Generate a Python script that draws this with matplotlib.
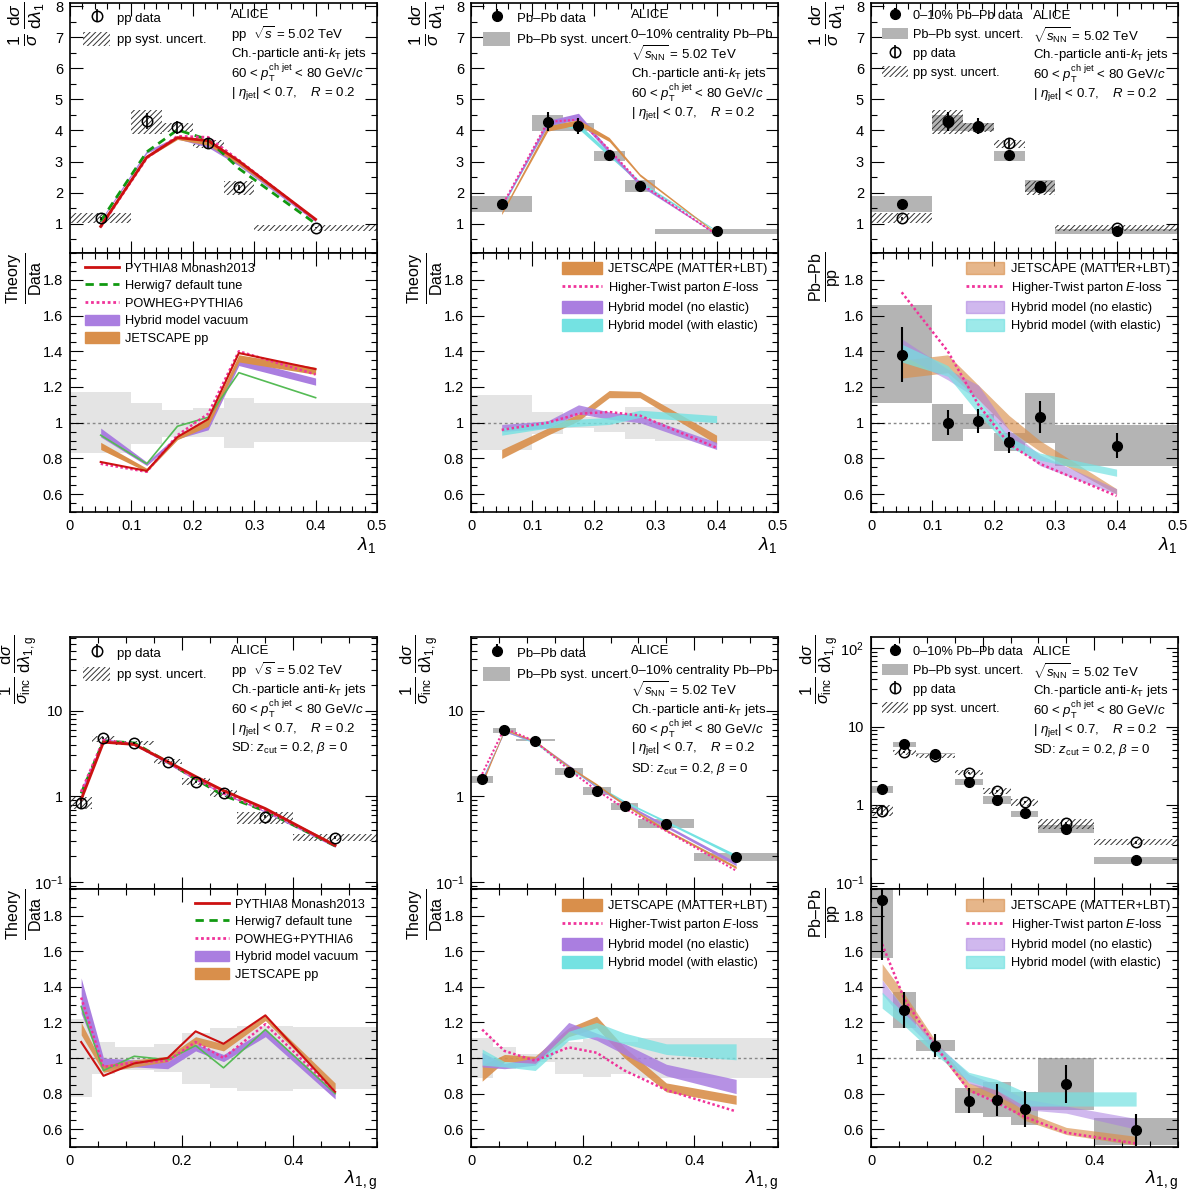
import numpy as np
import matplotlib
matplotlib.use("Agg")
import matplotlib.pyplot as plt
from matplotlib.lines import Line2D
from matplotlib.patches import Patch
from matplotlib.ticker import MultipleLocator, FuncFormatter, LogLocator, NullFormatter

plt.rcParams['font.family'] = ['Liberation Sans', 'DejaVu Sans']
plt.rcParams['mathtext.fontset'] = 'custom'
plt.rcParams['mathtext.rm'] = 'Liberation Sans'
plt.rcParams['mathtext.it'] = 'Liberation Sans:italic'
plt.rcParams['mathtext.bf'] = 'Liberation Sans:bold'
plt.rcParams['hatch.linewidth'] = 0.7

W, H = 1192, 1195

# ---------------- lambda_1 (ungroomed) ----------------
lam_edges = [0, 0.1, 0.15, 0.2, 0.25, 0.3, 0.5]
lam_x = [0.05, 0.125, 0.175, 0.225, 0.275, 0.4]

pp_val = [1.17, 4.30, 4.10, 3.60, 2.17, 0.88]
pp_stat = [0.05, 0.25, 0.20, 0.17, 0.08, 0.03]
pp_sys_lo = [1.03, 3.90, 3.95, 3.45, 1.93, 0.77]
pp_sys_hi = [1.34, 4.65, 4.24, 3.70, 2.39, 0.95]
pp_rsys_lo = [0.83, 0.88, 0.92, 0.92, 0.86, 0.89]
pp_rsys_hi = [1.17, 1.11, 1.07, 1.08, 1.14, 1.11]

pb_val = [1.62, 4.28, 4.14, 3.20, 2.22, 0.76]
pb_stat = [0.06, 0.30, 0.25, 0.12, 0.10, 0.04]
pb_sys_lo = [1.38, 3.98, 3.98, 3.03, 2.02, 0.68]
pb_sys_hi = [1.88, 4.51, 4.23, 3.34, 2.42, 0.83]
pb_rsys_lo = [0.845, 0.935, 0.97, 0.95, 0.91, 0.895]
pb_rsys_hi = [1.155, 1.06, 1.03, 1.05, 1.09, 1.105]

raa_val = [1.38, 1.00, 1.01, 0.89, 1.03, 0.87]
raa_stat = [0.155, 0.07, 0.065, 0.06, 0.09, 0.07]
raa_sys_lo = [1.11, 0.895, 0.965, 0.84, 0.885, 0.755]
raa_sys_hi = [1.66, 1.105, 1.05, 0.945, 1.165, 0.985]

# theory / pp data
pythia = [0.78, 0.73, 0.92, 1.02, 1.39, 1.30]
herwig = [0.93, 0.77, 0.98, 1.03, 1.28, 1.14]
powheg = [0.77, 0.725, 0.93, 1.05, 1.40, 1.27]
hybvac_lo = [0.92, 0.76, 0.91, 0.96, 1.32, 1.21]
hybvac_hi = [0.97, 0.78, 0.93, 1.00, 1.36, 1.25]
jetpp_lo = [0.85, 0.725, 0.905, 0.98, 1.34, 1.27]
jetpp_hi = [0.89, 0.745, 0.925, 1.02, 1.38, 1.31]

# theory / Pb-Pb data
jetaa_lo = [0.80, 0.93, 1.01, 1.14, 1.14, 0.88]
jetaa_hi = [0.85, 0.97, 1.05, 1.18, 1.175, 0.93]
htaa = [0.96, 1.00, 1.05, 1.06, 1.04, 0.86]
hybne_lo = [0.95, 0.97, 1.05, 1.02, 1.00, 0.85]
hybne_hi = [0.99, 1.01, 1.10, 1.06, 1.04, 0.89]
hybe_lo = [0.93, 0.97, 0.98, 0.99, 1.03, 1.00]
hybe_hi = [0.97, 1.01, 1.02, 1.03, 1.07, 1.04]

# Pb-Pb / pp models
jetraa_lo = [1.25, 1.28, 1.13, 0.96, 0.84, 0.60]
jetraa_hi = [1.35, 1.38, 1.21, 1.04, 0.90, 0.63]
htraa = [1.73, 1.40, 1.10, 0.88, 0.77, 0.59]
hybneraa_lo = [1.38, 1.24, 1.13, 0.90, 0.76, 0.60]
hybneraa_hi = [1.47, 1.30, 1.21, 0.96, 0.82, 0.63]
hyberaa_lo = [1.34, 1.26, 1.05, 0.86, 0.79, 0.70]
hyberaa_hi = [1.44, 1.32, 1.13, 0.92, 0.83, 0.74]

# ---------------- lambda_1,g (groomed) ----------------
lg_edges = [0, 0.04, 0.08, 0.15, 0.2, 0.25, 0.3, 0.4, 0.55]
lg_x = [0.02, 0.06, 0.115, 0.175, 0.225, 0.275, 0.35, 0.475]

ppg_val = [0.84, 4.75, 4.15, 2.54, 1.48, 1.08, 0.58, 0.33]
ppg_stat = [0.10, 0.15, 0.10, 0.06, 0.04, 0.03, 0.02, 0.015]
ppg_sys_lo = [0.72, 4.35, 4.00, 2.38, 1.37, 0.97, 0.48, 0.30]
ppg_sys_hi = [0.99, 5.00, 4.40, 2.75, 1.62, 1.19, 0.66, 0.36]
ppg_rsys_lo = [0.78, 0.91, 0.935, 0.92, 0.855, 0.83, 0.815, 0.825]
ppg_rsys_hi = [1.22, 1.09, 1.06, 1.08, 1.14, 1.17, 1.18, 1.175]

pbg_val = [1.57, 6.00, 4.43, 1.94, 1.14, 0.78, 0.48, 0.194]
pbg_stat = [0.08, 0.25, 0.15, 0.06, 0.04, 0.03, 0.02, 0.01]
pbg_sys_lo = [1.42, 5.50, 4.40, 1.77, 1.03, 0.70, 0.43, 0.175]
pbg_sys_hi = [1.74, 6.30, 4.60, 2.12, 1.27, 0.84, 0.55, 0.216]
pbg_rsys_lo = [0.89, 0.94, 0.98, 0.91, 0.895, 0.91, 0.89, 0.89]
pbg_rsys_hi = [1.11, 1.06, 1.02, 1.09, 1.105, 1.09, 1.11, 1.11]

raag_val = [1.89, 1.27, 1.07, 0.76, 0.765, 0.715, 0.855, 0.595]
raag_stat = [0.34, 0.10, 0.065, 0.07, 0.09, 0.10, 0.105, 0.09]
raag_sys_lo = [1.565, 1.17, 1.04, 0.69, 0.67, 0.625, 0.71, 0.51]
raag_sys_hi = [2.00, 1.37, 1.10, 0.83, 0.865, 0.81, 1.00, 0.665]

pythia_g = [1.09, 0.90, 0.97, 1.00, 1.15, 1.08, 1.24, 0.81]
herwig_g = [1.29, 0.93, 1.01, 0.99, 1.07, 0.945, 1.16, 0.80]
powheg_g = [1.34, 0.95, 0.975, 0.985, 1.09, 1.00, 1.19, 0.81]
hybvacg_lo = [1.25, 0.94, 0.95, 0.94, 1.04, 0.98, 1.12, 0.77]
hybvacg_hi = [1.45, 1.00, 0.99, 0.98, 1.08, 1.02, 1.16, 0.81]
jetppg_lo = [1.13, 0.92, 0.95, 0.98, 1.08, 1.04, 1.21, 0.82]
jetppg_hi = [1.20, 0.96, 0.99, 1.01, 1.12, 1.08, 1.24, 0.86]

jetaag_lo = [0.87, 0.98, 0.97, 1.12, 1.17, 1.00, 0.81, 0.74]
jetaag_hi = [0.96, 1.02, 1.01, 1.17, 1.235, 1.06, 0.86, 0.79]
htaag = [1.16, 1.04, 0.985, 1.06, 1.03, 0.93, 0.82, 0.70]
hybneg_lo = [0.95, 0.94, 0.96, 1.15, 1.10, 1.02, 0.90, 0.80]
hybneg_hi = [1.03, 0.97, 1.00, 1.20, 1.14, 1.08, 0.965, 0.88]
hybeg_lo = [0.96, 0.95, 0.93, 1.10, 1.12, 1.08, 1.02, 0.99]
hybeg_hi = [1.05, 0.98, 0.97, 1.15, 1.20, 1.14, 1.08, 1.08]

jetraag_lo = [1.44, 1.28, 1.05, 0.81, 0.77, 0.65, 0.57, 0.51]
jetraag_hi = [1.53, 1.36, 1.10, 0.86, 0.82, 0.70, 0.61, 0.56]
htraag = [1.64, 1.33, 1.07, 0.82, 0.75, 0.67, 0.58, 0.52]
hybneraag_lo = [1.36, 1.21, 1.04, 0.86, 0.79, 0.71, 0.69, 0.60]
hybneraag_hi = [1.44, 1.27, 1.09, 0.91, 0.85, 0.77, 0.73, 0.66]
hyberaag_lo = [1.28, 1.18, 1.02, 0.87, 0.82, 0.73, 0.73, 0.73]
hyberaag_hi = [1.37, 1.25, 1.08, 0.92, 0.88, 0.81, 0.81, 0.81]

RED = '#cc1111'
GREEN = '#119911'
PINK = '#f0339a'
PURPLE = '#aa7ee0'
ORANGE = '#d98f4b'
CYAN = '#74e2e2'
GSYS = '#b4b4b4'
GLIGHT = '#e4e4e4'

fig = plt.figure(figsize=(W / 100, H / 100), dpi=100)


def add_ax(x0, y0, y1, w=307):
    return fig.add_axes([x0 / W, 1 - y1 / H, w / W, (y1 - y0) / H])


def style(ax, xmaj, xmin, xlim, xlabels):
    ax.set_xlim(*xlim)
    ax.tick_params(which='both', direction='in', top=True, right=True, labelsize=10.5, pad=5)
    ax.tick_params(which='major', length=9, width=0.8)
    ax.tick_params(which='minor', length=4.5, width=0.8)
    ax.xaxis.set_major_locator(MultipleLocator(xmaj))
    ax.xaxis.set_minor_locator(MultipleLocator(xmin))
    ax.xaxis.set_major_formatter(FuncFormatter(lambda v, p: f'{v:g}'))
    if not xlabels:
        ax.tick_params(labelbottom=False)
    for sp in ax.spines.values():
        sp.set_linewidth(1.2)


def style_ratio(ax, xmaj, xmin, xlim):
    style(ax, xmaj, xmin, xlim, True)
    ax.set_ylim(0.5, 1.95)
    ax.yaxis.set_major_locator(MultipleLocator(0.2))
    ax.yaxis.set_minor_locator(MultipleLocator(0.05))
    ax.yaxis.set_major_formatter(FuncFormatter(lambda v, p: f'{v:g}' if v < 1.9 else ''))
    ax.axhline(1, color='#888888', ls=(0, (2, 2)), lw=1, zorder=1.5)


def log_fmt(v, p):
    lab = {0.1: r'$10^{-1}$', 1: '1', 10: '10', 100: r'$10^{2}$'}
    for k, s in lab.items():
        if np.isclose(v, k):
            return s
    return ''


def style_log(ax, ylim):
    ax.set_yscale('log')
    ax.set_ylim(*ylim)
    ax.yaxis.set_major_locator(LogLocator(base=10))
    ax.yaxis.set_minor_locator(LogLocator(base=10, subs=np.arange(2, 10)))
    ax.yaxis.set_major_formatter(FuncFormatter(log_fmt))
    ax.yaxis.set_minor_formatter(NullFormatter())


def boxes(ax, edges, lo, hi, **kw):
    e = np.asarray(edges)
    lo = np.asarray(lo)
    hi = np.asarray(hi)
    return ax.bar(e[:-1], hi - lo, width=np.diff(e), bottom=lo, align='edge', **kw)


def hatched(ax, edges, lo, hi):
    return boxes(ax, edges, lo, hi, facecolor='none', edgecolor='#333333', hatch='//////', linewidth=0, zorder=2)


def gray(ax, edges, lo, hi, color=GSYS, z=1):
    return boxes(ax, edges, lo, hi, color=color, linewidth=0, zorder=z)


def pts_open(ax, x, y, e):
    return ax.errorbar(x, y, yerr=e, fmt='o', mfc='none', mec='black', ms=7.5, mew=1.1,
                       ecolor='black', elinewidth=1.2, capsize=0, zorder=6)


def pts_full(ax, x, y, e):
    return ax.errorbar(x, y, yerr=e, fmt='o', color='black', ms=7,
                       elinewidth=1.5, capsize=0, zorder=7)


def band(ax, x, lo, hi, scale, color, alpha=1.0, z=3):
    s = np.asarray(scale)
    ax.fill_between(x, np.asarray(lo) * s, np.asarray(hi) * s, color=color, alpha=alpha, lw=0, zorder=z)


def line(ax, x, r, scale, **kw):
    ax.plot(x, np.asarray(r) * np.asarray(scale), **kw)


def ftext(x, y, s, **kw):
    fig.text(x / W, 1 - y / H, s, va='center', ha='left', fontsize=9.5, **kw)


def leg(ax, handles, labels, x, y, hl, hh, ls, fs=9.5, tp=0.5):
    return ax.legend(handles, labels, loc='upper left', bbox_to_anchor=(x / W, 1 - y / H),
                     bbox_transform=fig.transFigure, frameon=False, fontsize=fs,
                     handlelength=hl, handleheight=hh, labelspacing=ls, borderpad=0,
                     borderaxespad=0, handletextpad=tp)


cols = [70, 471, 871]
top_rows = [(3, 253, 512), (637, 889, 1147)]

# ============ TOP ROW (lambda_1) ============
y0, ym, y1 = top_rows[0]
axs = [(add_ax(c, y0, ym), add_ax(c, ym, y1)) for c in cols]
for a, r in axs:
    style(a, 0.1, 0.02, (0, 0.5), False)
    a.set_ylim(0.06, 8.1)
    a.yaxis.set_major_locator(MultipleLocator(1))
    a.yaxis.set_minor_locator(MultipleLocator(0.5))
    a.yaxis.set_major_formatter(FuncFormatter(lambda v, p: f'{v:g}' if v > 0.5 else ''))
    style_ratio(r, 0.1, 0.02, (0, 0.5))

# column 1: pp
a, r = axs[0]
h_sys = hatched(a, lam_edges, pp_sys_lo, pp_sys_hi)
h_pp = pts_open(a, lam_x, pp_val, pp_stat)
band(a, lam_x, hybvac_lo, hybvac_hi, pp_val, PURPLE)
band(a, lam_x, jetpp_lo, jetpp_hi, pp_val, ORANGE)
line(a, lam_x, herwig, pp_val, color=GREEN, ls=(0, (3, 2)), lw=2, zorder=4)
line(a, lam_x, powheg, pp_val, color=PINK, ls=(0, (1, 1)), lw=2, zorder=4)
line(a, lam_x, pythia, pp_val, color=RED, lw=2, zorder=5)
leg(a, [h_pp, h_sys], ['pp data', 'pp syst. uncert.'], 83, 10, 2.05, 1.3, 0.55)

gray(r, lam_edges, pp_rsys_lo, pp_rsys_hi, GLIGHT)
one = np.ones(len(lam_x))
band(r, lam_x, hybvac_lo, hybvac_hi, one, PURPLE)
band(r, lam_x, jetpp_lo, jetpp_hi, one, ORANGE)
line(r, lam_x, herwig, one, color='#55bb55', lw=1.2, zorder=4)
line(r, lam_x, powheg, one, color=PINK, ls=(0, (1, 1)), lw=1.8, zorder=4)
line(r, lam_x, pythia, one, color=RED, lw=1.5, zorder=4)
hs_pp = [Line2D([], [], color=RED, lw=2), Line2D([], [], color=GREEN, ls=(0, (3, 2)), lw=2),
         Line2D([], [], color=PINK, ls=(0, (1, 1)), lw=2), Patch(color=PURPLE), Patch(color=ORANGE)]
lb_pp = ['PYTHIA8 Monash2013', 'Herwig7 default tune', 'POWHEG+PYTHIA6',
         'Hybrid model vacuum', 'JETSCAPE pp']
leg(r, hs_pp, lb_pp, 85, 262, 2.65, 0.9, 0.38, fs=9.2)

# column 2: Pb-Pb
a, r = axs[1]
h_gsys = gray(a, lam_edges, pb_sys_lo, pb_sys_hi)
h_pb = pts_full(a, lam_x, pb_val, pb_stat)
band(a, lam_x, hybe_lo, hybe_hi, pb_val, CYAN)
band(a, lam_x, hybne_lo, hybne_hi, pb_val, PURPLE)
line(a, lam_x, htaa, pb_val, color=PINK, ls=(0, (1, 1)), lw=1.5, zorder=4)
band(a, lam_x, jetaa_lo, jetaa_hi, pb_val, ORANGE, z=4)
leg(a, [h_pb, h_gsys], ['Pb–Pb data', 'Pb–Pb syst. uncert.'], 483, 10, 2.05, 1.3, 0.55)

gray(r, lam_edges, pb_rsys_lo, pb_rsys_hi, GLIGHT)
one = np.ones(len(lam_x))
band(r, lam_x, jetaa_lo, jetaa_hi, one, ORANGE, 0.9)
band(r, lam_x, hybne_lo, hybne_hi, one, PURPLE, 0.85)
band(r, lam_x, hybe_lo, hybe_hi, one, CYAN, 0.8)
line(r, lam_x, htaa, one, color=PINK, ls=(0, (1, 1)), lw=1.8, zorder=4)
hs_aa = [Patch(color=ORANGE), Line2D([], [], color=PINK, ls=(0, (1, 1)), lw=2),
         Patch(color=PURPLE), Patch(color=CYAN)]
lb_aa = ['JETSCAPE (MATTER+LBT)', r'Higher-Twist parton $E$-loss',
         'Hybrid model (no elastic)', 'Hybrid model (with elastic)']
leg(r, hs_aa, lb_aa, 562, 262, 3.1, 1.05, 0.38, fs=9.2)

# column 3: Pb-Pb vs pp
a, r = axs[2]
h_gsys = gray(a, lam_edges, pb_sys_lo, pb_sys_hi)
h_sys = hatched(a, lam_edges, pp_sys_lo, pp_sys_hi)
h_pp = pts_open(a, lam_x, pp_val, pp_stat)
h_pb = pts_full(a, lam_x, pb_val, pb_stat)
leg(a, [h_pb, h_gsys, h_pp, h_sys],
    ['0–10% Pb–Pb data', 'Pb–Pb syst. uncert.', 'pp data', 'pp syst. uncert.'],
    882, 9, 2.0, 1.0, 0.45, fs=9.2, tp=0.4)

gray(r, lam_edges, raa_sys_lo, raa_sys_hi)
pts_full(r, lam_x, raa_val, raa_stat)
one = np.ones(len(lam_x))
band(r, lam_x, jetraa_lo, jetraa_hi, one, ORANGE, 0.65)
band(r, lam_x, hybneraa_lo, hybneraa_hi, one, PURPLE, 0.55)
band(r, lam_x, hyberaa_lo, hyberaa_hi, one, CYAN, 0.7)
line(r, lam_x, htraa, one, color=PINK, ls=(0, (1, 1)), lw=1.8, zorder=4)
hs_raa = [Patch(color=ORANGE, alpha=0.65), Line2D([], [], color=PINK, ls=(0, (1, 1)), lw=2),
          Patch(color=PURPLE, alpha=0.55), Patch(color=CYAN, alpha=0.7)]
leg(r, hs_raa, lb_aa, 966, 262, 3.0, 1.05, 0.38, fs=9.2)

# ============ BOTTOM ROW (lambda_1,g) ============
y0, ym, y1 = top_rows[1]
axb = [(add_ax(c, y0, ym), add_ax(c, ym, y1)) for c in cols]
for i, (a, r) in enumerate(axb):
    style(a, 0.2, 0.05, (0, 0.55), False)
    style_log(a, (0.083, 140) if i == 2 else (0.083, 72))
    style_ratio(r, 0.2, 0.05, (0, 0.55))

a, r = axb[0]
h_sys = hatched(a, lg_edges, ppg_sys_lo, ppg_sys_hi)
h_pp = pts_open(a, lg_x, ppg_val, ppg_stat)
band(a, lg_x, hybvacg_lo, hybvacg_hi, ppg_val, PURPLE)
band(a, lg_x, jetppg_lo, jetppg_hi, ppg_val, ORANGE)
line(a, lg_x, herwig_g, ppg_val, color=GREEN, ls=(0, (3, 2)), lw=2, zorder=4)
line(a, lg_x, powheg_g, ppg_val, color=PINK, ls=(0, (1, 1)), lw=2, zorder=4)
line(a, lg_x, pythia_g, ppg_val, color=RED, lw=2, zorder=5)
leg(a, [h_pp, h_sys], ['pp data', 'pp syst. uncert.'], 83, 645, 2.05, 1.3, 0.55)

gray(r, lg_edges, ppg_rsys_lo, ppg_rsys_hi, GLIGHT)
one = np.ones(len(lg_x))
band(r, lg_x, hybvacg_lo, hybvacg_hi, one, PURPLE)
band(r, lg_x, jetppg_lo, jetppg_hi, one, ORANGE, 0.9)
line(r, lg_x, herwig_g, one, color='#55bb55', lw=1.2, zorder=4)
line(r, lg_x, powheg_g, one, color=PINK, ls=(0, (1, 1)), lw=1.8, zorder=4)
line(r, lg_x, pythia_g, one, color=RED, lw=1.5, zorder=4)
leg(r, hs_pp, lb_pp, 195, 898, 2.65, 0.9, 0.38, fs=9.2)

a, r = axb[1]
h_gsys = gray(a, lg_edges, pbg_sys_lo, pbg_sys_hi)
h_pb = pts_full(a, lg_x, pbg_val, pbg_stat)
band(a, lg_x, hybeg_lo, hybeg_hi, pbg_val, CYAN)
band(a, lg_x, hybneg_lo, hybneg_hi, pbg_val, PURPLE)
band(a, lg_x, jetaag_lo, jetaag_hi, pbg_val, ORANGE, z=4)
line(a, lg_x, htaag, pbg_val, color=PINK, ls=(0, (1, 1)), lw=1.5, zorder=4)
leg(a, [h_pb, h_gsys], ['Pb–Pb data', 'Pb–Pb syst. uncert.'], 483, 645, 2.05, 1.3, 0.55)

gray(r, lg_edges, pbg_rsys_lo, pbg_rsys_hi, GLIGHT)
band(r, lg_x, jetaag_lo, jetaag_hi, one, ORANGE, 0.9)
band(r, lg_x, hybneg_lo, hybneg_hi, one, PURPLE, 0.85)
band(r, lg_x, hybeg_lo, hybeg_hi, one, CYAN, 0.75)
line(r, lg_x, htaag, one, color=PINK, ls=(0, (1, 1)), lw=1.8, zorder=4)
leg(r, hs_aa, lb_aa, 562, 899, 3.1, 1.05, 0.38, fs=9.2)

a, r = axb[2]
h_gsys = gray(a, lg_edges, pbg_sys_lo, pbg_sys_hi)
h_sys = hatched(a, lg_edges, ppg_sys_lo, ppg_sys_hi)
h_pp = pts_open(a, lg_x, ppg_val, ppg_stat)
h_pb = pts_full(a, lg_x, pbg_val, pbg_stat)
leg(a, [h_pb, h_gsys, h_pp, h_sys],
    ['0–10% Pb–Pb data', 'Pb–Pb syst. uncert.', 'pp data', 'pp syst. uncert.'],
    882, 645, 2.0, 1.0, 0.45, fs=9.2, tp=0.4)

gray(r, lg_edges, raag_sys_lo, raag_sys_hi)
pts_full(r, lg_x, raag_val, raag_stat)
band(r, lg_x, jetraag_lo, jetraag_hi, one, ORANGE, 0.65)
band(r, lg_x, hybneraag_lo, hybneraag_hi, one, PURPLE, 0.55)
band(r, lg_x, hyberaag_lo, hyberaag_hi, one, CYAN, 0.7)
line(r, lg_x, htraag, one, color=PINK, ls=(0, (1, 1)), lw=1.8, zorder=4)
leg(r, hs_raa, lb_aa, 966, 899, 3.0, 1.05, 0.38, fs=9.2)

# ---------------- text blocks ----------------
ptj = r'60 < $p_{\mathrm{T}}^{\mathrm{ch\ jet}}$ < 80 GeV/$c$'
eta = r'| $\eta_{\mathrm{jet}}$| < 0.7,    $R$ = 0.2'
akt = r'Ch.-particle anti-$k_{\mathrm{T}}$ jets'
sd = r'SD: $z_{\mathrm{cut}}$ = 0.2, $\beta$ = 0'
snn = r'$\sqrt{s_{\mathrm{NN}}}$ = 5.02 TeV'
spp = r'pp  $\sqrt{s}$ = 5.02 TeV'

for off, extra in [(0, []), (636, [sd])]:
    for k, s in enumerate(['ALICE', spp, akt, ptj, eta] + extra):
        ftext(231, 15 + off + 19.5 * k, s)
    for k, s in enumerate(['ALICE', '0–10% centrality Pb–Pb', snn, akt, ptj, eta] + extra):
        ftext(631, 15 + off + 19.6 * k, s)
    for k, s in enumerate(['ALICE', snn, akt, ptj, eta] + extra):
        ftext(1033, 16 + off + 19.5 * k, s)

# ---------------- axis titles ----------------
for c in cols:
    fig.text((c - 44) / W, 0.999, r'$\frac{1}{\sigma}\,\frac{\mathrm{d}\sigma}{\mathrm{d}\lambda_{1}}$',
             rotation=90, ha='center', va='top', fontsize=18)
    fig.text((c - 51) / W, 1 - 635 / H,
             r'$\frac{1}{\sigma_{\mathrm{inc}}}\,\frac{\mathrm{d}\sigma}{\mathrm{d}\lambda_{1,\mathrm{g}}}$',
             rotation=90, ha='center', va='top', fontsize=17)
    fig.text((c + 306) / W, 1 - 545 / H, r'$\lambda_{1}$', ha='right', va='center', fontsize=14)
    fig.text((c + 307) / W, 1 - 1180 / H, r'$\lambda_{1,\mathrm{g}}$', ha='right', va='center', fontsize=14)

for c, lab in zip(cols, [r'$\frac{\mathrm{Theory}}{\mathrm{Data}}$'] * 2 + [r'$\frac{\mathrm{Pb–Pb}}{\mathrm{pp}}$']):
    fig.text((c - 46) / W, 1 - 252 / H, lab, rotation=90, ha='center', va='top', fontsize=16.5)
    fig.text((c - 46) / W, 1 - 888 / H, lab, rotation=90, ha='center', va='top', fontsize=16.5)

fig.savefig('out.png', dpi=100)
